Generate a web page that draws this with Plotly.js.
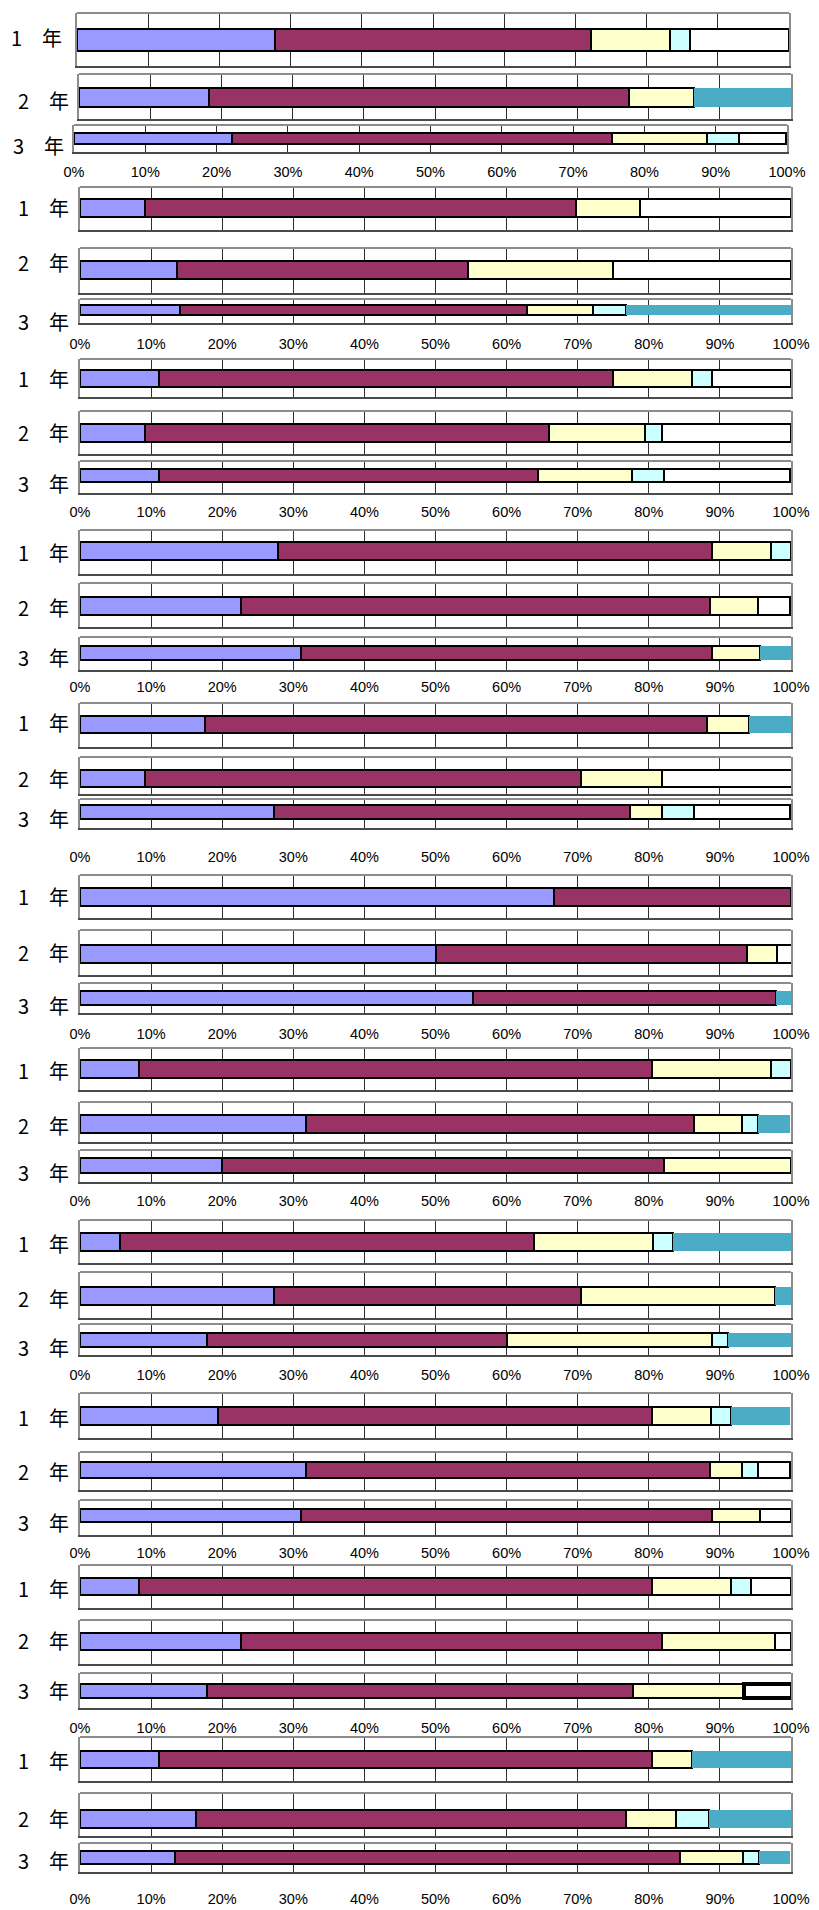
<!DOCTYPE html>
<html><head><meta charset="utf-8">
<script src="https://cdn.plot.ly/plotly-3.0.1.min.js"></script>
<style>html,body{margin:0;padding:0;background:#fff}#chart{width:819px;height:1910px}</style>
</head><body><div id="chart"></div>
<script>
// ---------- DATA (11 groups x 3 rows, group-major order) ----------
const rowLabels = ['1　年', '2　年', '3　年'];
const tickValues = [0, 10, 20, 30, 40, 50, 60, 70, 80, 90, 100];
const tickLabels = ['0%', '10%', '20%', '30%', '40%', '50%', '60%', '70%', '80%', '90%', '100%'];

const seriesBlue   = [27.8,18.2,22.2, 9.1,13.6,14.0, 11.1,9.1,11.1, 27.8,22.7,31.1, 17.6,9.1,27.3, 66.7,50.0,55.3, 8.3,31.8,20.0, 5.6,27.3,17.8, 19.4,31.8,31.1, 8.3,22.7,17.8, 11.1,16.3,13.3];
const seriesMaroon = [44.4,59.1,53.3, 60.6,40.9,48.8, 63.9,56.8,53.3, 61.1,65.9,57.8, 70.6,61.4,50.0, 33.3,43.8,42.6, 72.2,54.5,62.2, 58.3,43.2,42.2, 61.1,56.8,57.8, 72.2,59.1,60.0, 69.4,60.5,71.1];
const seriesYellow = [11.1,9.1,13.3, 9.1,20.5,9.3, 11.1,13.6,13.3, 8.3,6.8,6.7, 5.9,11.4,4.5, 0,4.2,0, 16.7,6.8,17.8, 16.7,27.3,28.9, 8.3,4.5,6.7, 11.1,15.9,15.6, 5.6,7.0,8.9];
const seriesCyan   = [2.8,0,4.4, 0,0,4.7, 2.8,2.3,4.4, 2.8,0,0, 0,0,4.5, 0,0,0, 2.8,2.3,0, 2.8,0,2.2, 2.8,2.3,0, 2.8,0,0, 0,4.7,2.2];
const seriesWhite  = [13.9,0,6.7, 21.2,25.0,0, 11.1,18.2,17.8, 0,4.5,0, 0,18.2,13.6, 0,2.1,0, 0,0,0, 0,0,0, 0,4.5,4.4, 5.6,2.3,6.7, 0,0,0];
const seriesTeal   = [0,13.6,0, 0,0,23.3, 0,0,0, 0,0,4.4, 5.9,0,0, 0,0,2.1, 0,4.5,0, 16.7,2.3,8.9, 8.3,0,0, 0,0,0, 13.9,11.6,4.4];

// ---------- LAYOUT GEOMETRY (pixels) ----------
const W = 819, H = 1910;
const boxTop = [13,74,125, 187,248,299, 359,411,461, 530,583,637, 703,757,799, 875,930,983, 1048,1102,1150, 1220,1272,1324, 1393,1452,1500, 1565,1620,1673, 1737,1793,1843];
const boxBot = [66,119,152, 230,293,323, 397,454,493, 574,627,670, 747,794,828, 918,975,1013, 1090,1142,1182, 1263,1318,1355, 1438,1490,1535, 1608,1664,1708, 1781,1836,1872];
const barTop = [29,88,133, 199,261,305, 370,424,469, 542,597,646, 716,770,805, 888,945,991, 1060,1115,1158, 1233,1287,1333, 1407,1462,1509, 1578,1633,1684, 1751,1810,1851];
const barBot = [51,107,144, 217,279,315, 387,442,482, 560,615,660, 733,787,819, 906,963,1005, 1078,1133,1173, 1251,1305,1347, 1425,1478,1522, 1595,1650,1698, 1768,1828,1864];
const labelY = [38,101,146, 208,262,321, 379,433,483, 553,607,658, 722,778,818, 897,953,1005, 1070,1125,1172, 1243,1298,1347, 1417,1471,1522, 1588,1640,1690, 1760,1818,1860];
const tickY  = [169,341,509,684,854,1031,1198,1372,1550,1725,1896];
const boxLeft  = [77,79,74].concat(Array(30).fill(80));
const boxRight = [789,791,787].concat(Array(30).fill(791));
const labelRight = [64,71,66].concat(Array(30).fill(71));

const series = [
  {name: 'A', values: seriesBlue,   color: '#9999FF', lw: 2},
  {name: 'B', values: seriesMaroon, color: '#993366', lw: 2},
  {name: 'C', values: seriesYellow, color: '#FFFFCC', lw: 2},
  {name: 'D', values: seriesCyan,   color: '#CCFFFF', lw: 2},
  {name: 'E', values: seriesWhite,  color: '#FFFFFF', lw: 2},
  {name: 'F', values: seriesTeal,   color: '#4BACC6', lw: 0}
];
const thickRow = 29, thickSeries = 4;

const traces = [];
const layout = {
  width: W, height: H, margin: {l: 0, r: 0, t: 0, b: 0},
  paper_bgcolor: '#fff', plot_bgcolor: '#fff',
  barmode: 'stack', showlegend: false,
  shapes: [], annotations: []
};

for (let i = 0; i < 33; i++) {
  const n = i + 1;
  const sx = n === 1 ? '' : String(n);
  const xa = 'x' + sx, ya = 'y' + sx;
  const boxH = boxBot[i] - boxTop[i];
  const bw = (barBot[i] - barTop[i]) / boxH;
  const yc = ((boxTop[i] + boxBot[i]) / 2 - (barTop[i] + barBot[i]) / 2) / boxH;

  series.forEach((s, k) => {
    const v = s.values[i];
    if (!v) return;
    traces.push({
      type: 'bar', orientation: 'h', name: s.name,
      x: [v], y: [yc], width: bw,
      xaxis: xa, yaxis: ya,
      marker: {color: s.color, line: {color: '#000', width: (i === thickRow && k === thickSeries) ? 3.5 : s.lw}},
      hoverinfo: 'skip', showlegend: false
    });
  });

  const isLast = (i % 3) === 2;
  const panel = Math.floor(i / 3);
  layout['xaxis' + sx] = {
    domain: [boxLeft[i] / W, boxRight[i] / W],
    range: [0, 100], anchor: ya, fixedrange: true,
    tickvals: tickValues, ticktext: tickLabels,
    showticklabels: isLast, ticks: '',
    ticklabelstandoff: isLast ? Math.max(0, tickY[panel] - boxBot[i] - 11) : 0,
    tickfont: {family: 'Liberation Sans, Arial, sans-serif', size: 14.5, color: '#000'},
    showgrid: true, gridcolor: '#2e2e2e', gridwidth: 1,
    zeroline: false, showline: true, linecolor: '#4a4a4a', linewidth: 2,
    layer: 'below traces'
  };
  layout['yaxis' + sx] = {
    domain: [1 - boxBot[i] / H, 1 - boxTop[i] / H],
    range: [-0.5, 0.5], anchor: xa, fixedrange: true,
    showticklabels: false, ticks: '', showgrid: false, zeroline: false,
    showline: true, linecolor: '#8c8c8c', linewidth: 2, mirror: true,
    layer: 'below traces'
  };
  layout.shapes.push({
    type: 'line', xref: xa + ' domain', yref: ya + ' domain',
    x0: 0, x1: 1, y0: 1, y1: 1,
    line: {color: '#8c8c8c', width: 2}, layer: 'above'
  });
  layout.annotations.push({
    text: rowLabels[i % 3], xref: 'paper', yref: 'paper',
    x: labelRight[i] / W, y: 1 - labelY[i] / H,
    xanchor: 'right', yanchor: 'middle', showarrow: false,
    font: {family: 'Noto Sans CJK JP, sans-serif', size: 20, color: '#000'}
  });
}

Plotly.newPlot('chart', traces, layout, {staticPlot: true, displayModeBar: false});
</script>
</body></html>
